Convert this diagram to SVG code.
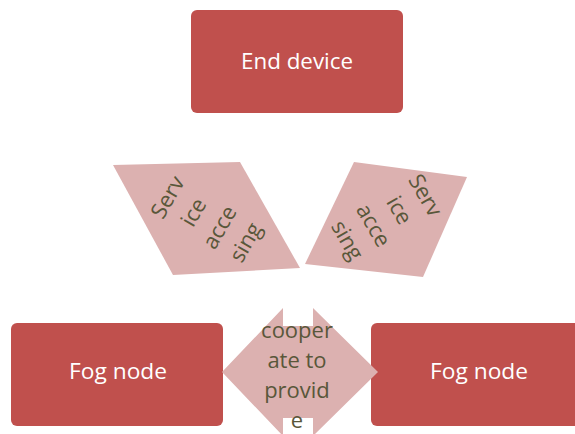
<svg xmlns="http://www.w3.org/2000/svg" width="575" height="434" viewBox="0 0 575 434">
  <style>
    .box { fill: #C0504D; }
    .lbl { font-family: "Open Sans", "Liberation Sans", Arial, sans-serif; font-size: 21px; fill: #FFFFFF; text-anchor: middle; }
    .shape { fill: #DCB1B0; }
    .dtxt { font-family: "Open Sans", "Liberation Sans", Arial, sans-serif; font-size: 22px; fill: #59573A; text-anchor: middle; }
  </style>
  <rect width="575" height="434" fill="#FFFFFF"/>
  <g id="end-device">
    <rect class="box" x="191" y="10" width="212" height="103" rx="6"/>
    <text class="lbl" x="297" y="69" textLength="112" lengthAdjust="spacingAndGlyphs">End device</text>
  </g>
  <g id="fog-node-left">
    <rect class="box" x="11" y="323" width="212" height="103" rx="6"/>
    <text class="lbl" x="118" y="379" textLength="98" lengthAdjust="spacingAndGlyphs">Fog node</text>
  </g>
  <g id="fog-node-right">
    <rect class="box" x="371" y="323" width="212" height="103" rx="6"/>
    <text class="lbl" x="479" y="379" textLength="98" lengthAdjust="spacingAndGlyphs">Fog node</text>
  </g>
  <g id="connectors">
    <g id="service-accessing-left">
      <polygon class="shape" points="113,165 240,162 300,268 173,275"/>
      <g transform="translate(207,220) rotate(-60)">
        <text class="dtxt" x="0" y="-38">Serv</text>
        <text class="dtxt" x="0" y="-8">ice</text>
        <text class="dtxt" x="0" y="22">acce</text>
        <text class="dtxt" x="0" y="52">sing</text>
      </g>
    </g>
    <g id="service-accessing-right">
      <polygon class="shape" points="354,162 467,177 423,277 305,264"/>
      <g transform="translate(386,218) rotate(60)">
        <text class="dtxt" x="0" y="-38">Serv</text>
        <text class="dtxt" x="0" y="-8">ice</text>
        <text class="dtxt" x="0" y="22">acce</text>
        <text class="dtxt" x="0" y="52">sing</text>
      </g>
    </g>
    <g id="cooperate">
      <polygon class="shape" points="222,372 283,308 283,326 313,326 313,308 378,372 313,436 313,418 283,418 283,436"/>
      <text class="dtxt" x="297" y="338">cooper</text>
      <text class="dtxt" x="297" y="368">ate to</text>
      <text class="dtxt" x="297" y="398">provid</text>
      <text class="dtxt" x="297" y="428">e</text>
    </g>
  </g>
</svg>
